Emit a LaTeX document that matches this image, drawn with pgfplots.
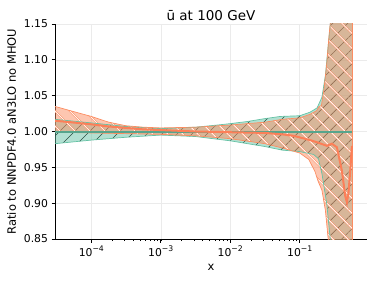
\documentclass[border=0pt]{standalone}
\usepackage{pgfplots}
\pgfplotsset{compat=1.18}
\usepackage{fontspec}
\setmainfont{DejaVu Sans}
\usepgfplotslibrary{fillbetween}
\usetikzlibrary{patterns.meta,calc}
\definecolor{cgreen}{HTML}{66C2A5}
\definecolor{corange}{HTML}{FC8D62}
\definecolor{cgrid}{HTML}{EBEBEB}
\newcommand{\tenp}[1]{10\raisebox{0.85ex}{\fontsize{7.7}{8}\selectfont −#1}}
\begin{document}
\begin{tikzpicture}
\begin{axis}[
  set layers=standard,
  xmode=log,
  scale only axis,
  width=312pt, height=215pt,
  xmin=3e-5, xmax=0.93,
  ymin=0.85, ymax=1.15,
  axis x line*=bottom, axis y line*=left,
  axis line style={-, line width=0.8pt},
  tick align=outside,
  major tick length=3.5pt, minor tick length=2pt,
  every tick/.style={black, line width=0.7pt},
  minor tick style={line width=0.5pt},
  xtick={1e-4,1e-3,1e-2,1e-1},
  xticklabels={\tenp{4},\tenp{3},\tenp{2},\tenp{1}},
  ytick={0.85,0.90,0.95,1.00,1.05,1.10,1.15},
  yticklabels={0.85,0.90,0.95,1.00,1.05,1.10,1.15},
  tick label style={font=\fontsize{10.8}{12}\selectfont},
  grid=major,
  major grid style={cgrid, line width=0.5pt},
  xlabel={x}, ylabel={Ratio to NNPDF4.0 aN3LO no MHOU},
  label style={font=\fontsize{11.5}{13}\selectfont},
  ylabel style={yshift=1pt},
  title={ū at 100 GeV},
  title style={font=\fontsize{13.5}{15}\selectfont, yshift=-6pt},
  clip=true,
]
% green band
\addplot[name path=gup, cgreen, line width=0.7pt] coordinates {
(3e-5,1.017)(1e-4,1.012)(3.16e-4,1.007)(1e-3,1.004)(3.16e-3,1.006)(6.5e-3,1.009)(1e-2,1.011)(1.78e-2,1.014)(3.16e-2,1.018)(5.25e-2,1.021)(0.1,1.022)(0.141,1.027)(0.178,1.033)(0.209,1.048)(0.234,1.078)(0.257,1.12)(0.282,1.16)(0.316,1.25)(0.564,1.4)};
\addplot[name path=glo, cgreen, line width=0.7pt] coordinates {
(3e-5,0.983)(1e-4,0.988)(3.16e-4,0.992)(1e-3,0.995)(3.16e-3,0.993)(1e-2,0.987)(1.78e-2,0.983)(3.16e-2,0.979)(5.62e-2,0.974)(0.1,0.972)(0.158,0.968)(0.186,0.962)(0.209,0.941)(0.245,0.899)(0.275,0.85)(0.3,0.75)(0.564,0.6)};
\addplot[fill=cgreen, fill opacity=0.5, draw=none,
  postaction={fill opacity=0.45, pattern={Lines[angle=45,distance=10.6pt,line width=0.6pt]}, pattern color=black!60!cgreen}]
  fill between[of=gup and glo];
% orange band
\addplot[name path=oup, corange, line width=0.7pt] coordinates {
(3e-5,1.035)(5e-5,1.029)(1e-4,1.021)(1.78e-4,1.013)(3.16e-4,1.008)(5.62e-4,1.006)(1e-3,1.005)(3.16e-3,1.006)(1e-2,1.009)(3.16e-2,1.013)(5.62e-2,1.017)(0.1,1.019)(0.141,1.024)(0.175,1.029)(0.19,1.035)(0.205,1.036)(0.224,1.06)(0.245,1.095)(0.266,1.137)(0.282,1.16)(0.32,1.3)(0.564,1.4)};
\addplot[name path=olo, corange, line width=0.7pt] coordinates {
(3e-5,0.999)(1e-4,0.998)(3.16e-4,0.997)(1e-3,0.996)(3.16e-3,0.994)(1e-2,0.990)(3.16e-2,0.983)(5.62e-2,0.977)(0.1,0.970)(0.135,0.961)(0.166,0.944)(0.185,0.930)(0.209,0.918)(0.234,0.89)(0.257,0.85)(0.28,0.75)(0.564,0.6)};
\addplot[fill=corange, fill opacity=0.5, draw=none,
  postaction={fill opacity=0.8, pattern={Lines[angle=-45,distance=10.6pt,line width=1.8pt]}, pattern color=corange},
  postaction={fill opacity=0.85, pattern={Lines[angle=-45,distance=10.6pt,line width=0.8pt]}, pattern color=white}]
  fill between[of=oup and olo];
% right edge of bands
\addplot[corange, line width=0.7pt] coordinates {(0.564,0.6)(0.564,1.4)};
% central lines
\addplot[draw=cgreen!85!black, line width=2pt] coordinates {(3e-5,1.0)(0.564,1.0)};
\addplot[draw=corange!90!red, line width=2pt] coordinates {
(3e-5,1.015)(5e-5,1.013)(1e-4,1.010)(1.78e-4,1.007)(3.16e-4,1.005)(5.62e-4,1.003)(1e-3,1.002)(3.16e-3,1.000)(1e-2,0.999)(3.16e-2,0.998)(5.62e-2,0.996)(0.0815,0.994)(0.141,0.988)(0.177,0.985)(0.246,0.980)(0.290,0.983)(0.343,0.978)(0.405,0.945)(0.452,0.910)(0.478,0.901)(0.504,0.915)(0.533,0.945)(0.564,0.98)};
\end{axis}
\path (current axis.south west) ++(-55pt,-42pt) rectangle ($(current axis.north east)+(7pt,24pt)$);
\end{tikzpicture}
\end{document}
